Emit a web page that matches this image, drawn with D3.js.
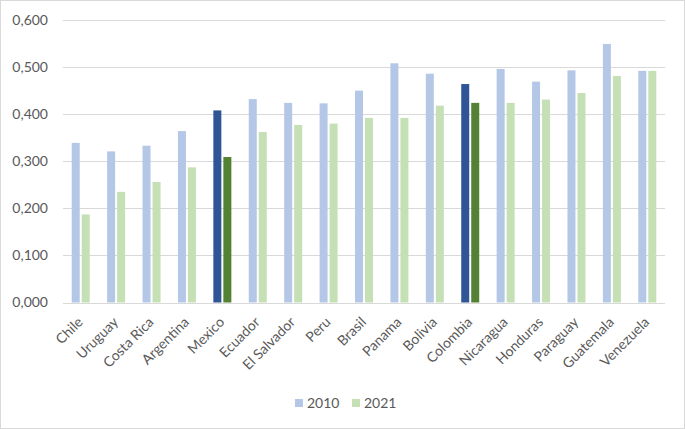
<!DOCTYPE html>
<html><head><meta charset="utf-8">
<script src="https://cdn.jsdelivr.net/npm/d3@7"></script>
<style>html,body{margin:0;padding:0;background:#fff;}svg{display:block;}</style>
</head><body>
<svg id="chart" width="685" height="429"></svg>
<script>
const categories = ["Chile","Uruguay","Costa Rica","Argentina","Mexico","Ecuador","El Salvador","Peru","Brasil","Panama","Bolivia","Colombia","Nicaragua","Honduras","Paraguay","Guatemala","Venezuela"];
const values2010 = [0.339,0.321,0.333,0.364,0.408,0.432,0.424,0.423,0.450,0.508,0.486,0.464,0.496,0.469,0.493,0.549,0.492];
const values2021 = [0.187,0.235,0.256,0.287,0.309,0.362,0.377,0.380,0.392,0.392,0.418,0.424,0.424,0.431,0.445,0.481,0.492];
const seriesNames = ["2010","2021"];
const highlighted = ["Mexico","Colombia"];
const yTicks = [0,0.1,0.2,0.3,0.4,0.5,0.6];

const colors = {"2010":"#B4C7E7","2021":"#C5E0B4"};
const darkColors = {"2010":"#2F5597","2021":"#548235"};
const textColor = "#595959";
const font = "Lato, 'Open Sans', sans-serif";

const svg = d3.select("#chart");
svg.append("rect").attr("x",0.5).attr("y",0.5).attr("width",684).attr("height",428)
  .attr("fill","#fff").attr("stroke","#D9D9D9").attr("stroke-width",1);

const x = d3.scaleBand().domain(categories).range([63,665]);
const inner = d3.scaleBand().domain(seriesNames).range([-9,9]).paddingInner(0.2);
const y = d3.scaleLinear().domain([0,0.6]).range([302.5,20]);

const fmt = v => d3.format(".3f")(v).replace(".", ",");

// gridlines
svg.append("g").selectAll("line").data(yTicks).join("line")
  .attr("x1",63).attr("x2",665)
  .attr("y1",d=>Math.round(y(d))+0.5).attr("y2",d=>Math.round(y(d))+0.5)
  .attr("stroke","#D9D9D9").attr("stroke-width",1);

// y labels
svg.append("g").selectAll("text").data(yTicks).join("text")
  .attr("x",48).attr("y",d=>y(d)).attr("dy","0.35em")
  .attr("text-anchor","end").attr("font-family",font).attr("font-size",14)
  .attr("fill",textColor).text(fmt);

// bars
const data = [];
categories.forEach((c,i)=>{
  data.push({c, s:"2010", v: values2010[i]});
  data.push({c, s:"2021", v: values2021[i]});
});
svg.append("g").selectAll("rect").data(data).join("rect")
  .attr("x",d=>x(d.c)+x.bandwidth()/2+inner(d.s))
  .attr("width",inner.bandwidth())
  .attr("y",d=>y(d.v))
  .attr("height",d=>y(0)-y(d.v))
  .attr("fill",d=> highlighted.includes(d.c) ? darkColors[d.s] : colors[d.s]);

// x labels
svg.append("g").selectAll("text").data(categories).join("text")
  .attr("transform",d=>`translate(${x(d)+x.bandwidth()/2+3},323) rotate(-45)`)
  .attr("text-anchor","end").attr("font-family",font).attr("font-size",14)
  .attr("fill",textColor).text(d=>d);

// legend
const legend = svg.append("g");
const legX = [295,352];
seriesNames.forEach((s,i)=>{
  legend.append("rect").attr("x",legX[i]).attr("y",399).attr("width",8).attr("height",8).attr("fill",colors[s]);
  legend.append("text").attr("x",legX[i]+12).attr("y",408).attr("font-family",font).attr("font-size",14)
    .attr("fill",textColor).text(s);
});
</script>
</body></html>
